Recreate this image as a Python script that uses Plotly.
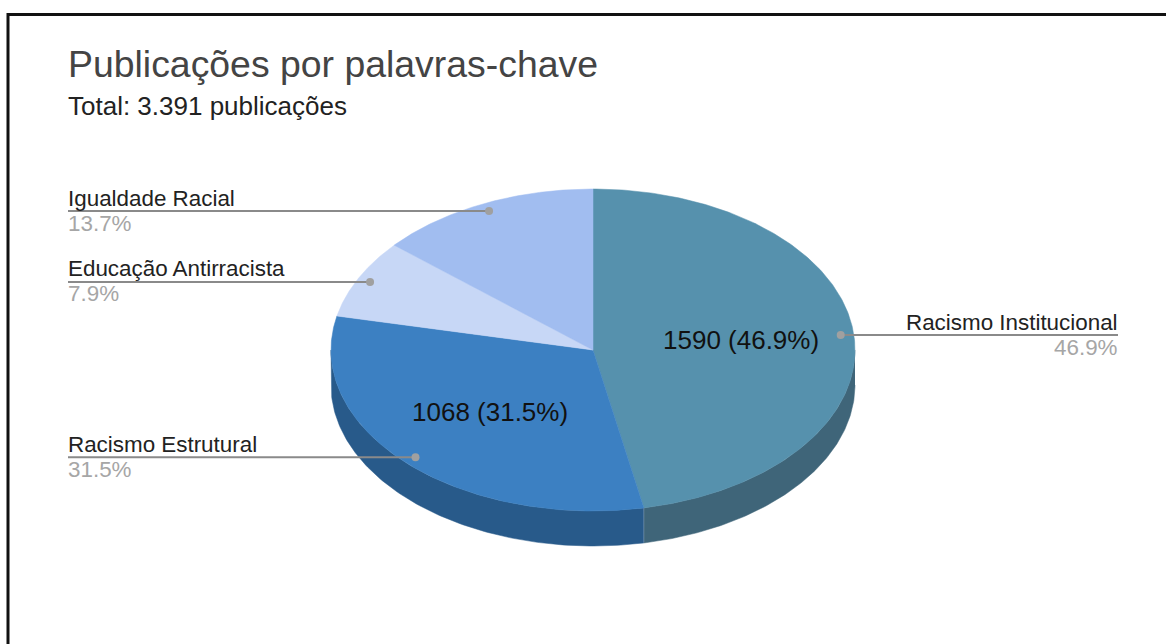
import numpy as np
import plotly.graph_objects as go

categories = ["Racismo Institucional", "Racismo Estrutural", "Educação Antirracista", "Igualdade Racial"]
values = [1590, 1068, 268, 465]
top_colors = ["#5691ad", "#3c80c2", "#c7d7f6", "#a1bdf0"]
side_colors = ["#3f6579", "#285a8a", "#8c97ad", "#7185a9"]
inner_labels = [True, True, False, False]
title_text = "Publicações por palavras-chave"
subtitle_text = "Total: 3.391 publicações"

W, H = 1166, 644
CX, CY, RX, RY, DEPTH = 593, 350, 262, 161, 35
LEFT, RIGHT = 68, 1118
LINE_F, INNER_F = 0.95, 0.56


def pt(deg, f=1.0, dy=0.0):
    a = np.radians(deg)
    return CX + RX * f * np.sin(a), CY - RY * f * np.cos(a) + dy


total = sum(values)
fracs = [v / total for v in values]
edges = np.cumsum([0] + fracs) * 360

fig = go.Figure()
no_hover = dict(hoverinfo="skip", showlegend=False)

# Side walls of the disc
for i in range(len(values)):
    a0, a1 = max(edges[i], 90), min(edges[i + 1], 270)
    if a1 <= a0:
        continue
    t = np.linspace(a0, a1, 120)
    xt, yt = pt(t)
    xb, yb = pt(t[::-1], dy=DEPTH)
    fig.add_trace(go.Scatter(x=np.r_[xt, xb], y=np.r_[yt, yb], mode="lines", fill="toself",
                             fillcolor=side_colors[i], line=dict(color=side_colors[i], width=0.5), **no_hover))

# Top faces
for i in range(len(values)):
    t = np.linspace(edges[i], edges[i + 1], 240)
    xt, yt = pt(t)
    fig.add_trace(go.Scatter(x=np.r_[CX, xt, CX], y=np.r_[CY, yt, CY], mode="lines", fill="toself",
                             fillcolor=top_colors[i], line=dict(color=top_colors[i], width=0.5), **no_hover))

# Seam between side walls
for e in edges:
    if 90 < e < 270:
        xs, ys = pt(e)
        fig.add_trace(go.Scatter(x=[xs, xs], y=[ys, ys + DEPTH], mode="lines",
                                 line=dict(color="rgba(255,255,255,0.2)", width=1), **no_hover))

annotations = []


def text(x, y, s, size, color, anchor="left"):
    annotations.append(dict(x=x, y=y, xref="x", yref="y", text=s, showarrow=False, xanchor=anchor,
                            yanchor="middle", align=anchor, borderpad=0, borderwidth=0,
                            font=dict(family="Liberation Sans, Arial, sans-serif", size=size, color=color)))


text(LEFT, 64, title_text, 37.4, "#444444")
text(LEFT, 106, subtitle_text, 26, "#222222")

# Leader lines, dots and outer labels
for i, cat in enumerate(categories):
    mid = (edges[i] + edges[i + 1]) / 2
    px, py = pt(mid, LINE_F)
    right = mid < 180
    end = RIGHT if right else LEFT
    fig.add_trace(go.Scatter(x=[end, px], y=[py, py], mode="lines",
                             line=dict(color="#8a8a8a", width=2), **no_hover))
    fig.add_trace(go.Scatter(x=[px], y=[py], mode="markers",
                             marker=dict(color="#a0a0a0", size=8), **no_hover))
    anchor = "right" if right else "left"
    text(end, py - 13, cat, 22.4, "#222222", anchor)
    text(end, py + 12, f"{fracs[i] * 100:.1f}%", 22.4, "#a6a6a6", anchor)
    if inner_labels[i]:
        ix, iy = pt(mid, INNER_F)
        text(ix + 2, iy - 1, f"{values[i]} ({fracs[i] * 100:.1f}%)", 26, "#111111", "center")

# Frame: left and top edges only
fig.add_shape(type="path", path=f"M 8 {H} L 8 14.5 L {W} 14.5", xref="x", yref="y",
              line=dict(color="#111111", width=3))

fig.update_layout(width=W, height=H, margin=dict(l=0, r=0, t=0, b=0), autosize=False,
                  paper_bgcolor="white", plot_bgcolor="white", annotations=annotations,
                  hovermode=False, showlegend=False,
                  xaxis=dict(range=[0, W], visible=False, fixedrange=True),
                  yaxis=dict(range=[H, 0], visible=False, fixedrange=True))

fig.write_html("out.html", config=dict(displayModeBar=False),
               post_script="document.body.style.margin='0';document.body.style.overflow='hidden';")
